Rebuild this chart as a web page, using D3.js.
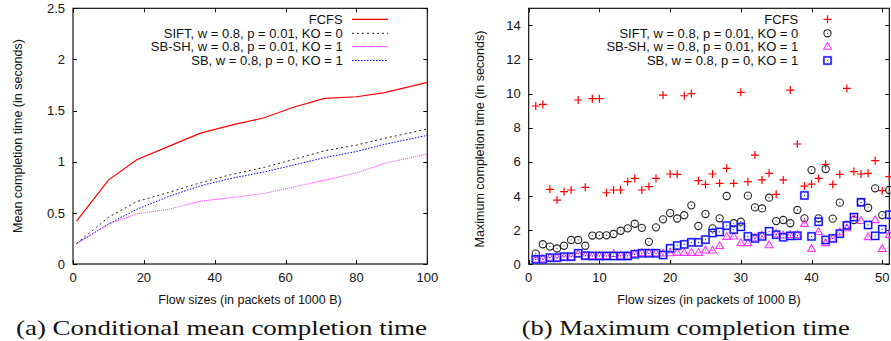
<!DOCTYPE html>
<html><head><meta charset="utf-8">
<script src="https://cdn.jsdelivr.net/npm/d3@7"></script>
<style>body{margin:0;background:#fff}svg{display:block}</style>
</head><body>
<svg id="c" width="891" height="341"></svg>
<script>
// ---------- data ----------
const seriesNames = ["FCFS", "SIFT, w = 0.8, p = 0.01, KO = 0", "SB-SH, w = 0.8, p = 0.01, KO = 1", "SB, w = 0.8, p = 0, KO = 1"];
const meanSizes = [1, 10, 18, 27, 36, 45, 54, 62, 71, 80, 88, 100];
const meanFCFS  = [0.42, 0.82, 1.02, 1.15, 1.28, 1.36, 1.43, 1.53, 1.62, 1.635, 1.675, 1.775];
const meanSIFT  = [0.20, 0.456, 0.61, 0.70, 0.795, 0.877, 0.945, 1.02, 1.107, 1.163, 1.229, 1.32];
const meanSBSH  = [0.20, 0.39, 0.49, 0.535, 0.615, 0.65, 0.69, 0.75, 0.82, 0.89, 0.985, 1.075];
const meanSB    = [0.20, 0.39, 0.535, 0.66, 0.765, 0.84, 0.90, 0.965, 1.04, 1.10, 1.17, 1.258];
const meanXTicks = [0, 20, 40, 60, 80, 100];
const meanYTicks = [0, 0.5, 1, 1.5, 2, 2.5];

const maxSizes = [1,2,3,4,5,6,7,8,9,10,11,12,13,14,15,16,17,18,19,20,21,22,23,24,25,26,27,28,29,30,31,32,33,34,35,36,37,38,39,40,41,42,43,44,45,46,47,48,49,50,51];
const maxFCFS = [9.27,9.36,4.38,3.75,4.24,4.34,9.62,4.5,9.7,9.7,4.18,4.34,4.34,4.83,5.02,4.34,4.54,5.02,9.91,5.28,5.26,9.87,10.0,4.89,4.67,5.28,4.73,5.61,4.73,10.07,4.83,6.39,4.93,5.32,4.09,4.93,10.2,7.04,4.57,4.69,5.02,5.85,4.67,5.26,10.3,5.42,5.28,5.32,6.06,4.3,5.12];
const maxSIFT = [0.61,1.16,1.02,0.91,1.07,1.41,1.41,1.07,1.67,1.68,1.68,1.76,1.95,2.09,2.36,2.12,1.3,2.15,2.62,2.99,2.67,2.86,3.44,2.23,2.93,2.09,2.68,3.99,2.39,2.48,4.01,3.32,3.26,3.89,2.52,2.58,2.39,3.17,2.68,5.51,2.68,5.57,2.66,3.6,2.29,2.58,3.62,3.3,4.44,2.87,4.34];
const maxSBSH = [0.27,0.31,0.37,0.37,0.41,0.41,0.59,0.47,0.47,0.47,0.47,0.59,0.49,0.49,0.59,0.66,0.63,0.63,0.62,0.64,0.66,0.66,0.66,0.66,0.8,0.8,1.06,1.6,1.62,1.23,1.23,1.55,1.68,1.11,1.78,1.68,1.7,1.7,2.36,0.89,1.88,1.23,1.48,1.86,2.1,2.7,2.53,1.58,2.58,0.89,1.7];
const maxSB   = [0.27,0.27,0.37,0.37,0.43,0.43,0.63,0.49,0.47,0.47,0.47,0.47,0.47,0.47,0.57,0.63,0.63,0.63,0.53,0.92,1.08,1.15,1.27,1.27,1.43,1.82,1.88,2.25,2.02,2.18,1.62,1.5,1.62,1.92,1.72,1.57,1.65,1.66,4.02,1.62,2.48,1.41,1.5,1.78,2.26,2.75,3.62,2.29,1.65,2.04,2.89];
const maxXTicks = [0, 10, 20, 30, 40, 50];
const maxYTicks = [0, 2, 4, 6, 8, 10, 12, 14];

const xTitle = "Flow sizes (in packets of 1000 B)";
const yTitleMean = "Mean completion time (in seconds)";
const yTitleMax = "Maximum completion time (in seconds)";
const captionA = "(a) Conditional mean completion time";
const captionB = "(b) Maximum completion time";

// ---------- drawing ----------
const svg = d3.select("#c");
const SANS = "'Liberation Sans', Arial, sans-serif";
const SERIF = "'Liberation Serif', 'DejaVu Serif', serif";
const colRed = "#ff0000", colSift = "#222222", colMag = "#ff33ff", colBlue = "#0000ff";

function frame(x, y, xt, yt, fmtY) {
  const g = svg.append("g");
  const [x0, x1] = x.range(), [y0, y1] = y.range();
  const tl = 4;
  xt.forEach(v => {
    const px = Math.round(x(v)) + 0.5;
    g.append("line").attr("x1", px).attr("x2", px).attr("y1", y0).attr("y2", y0 - tl).attr("stroke", "#000");
    g.append("line").attr("x1", px).attr("x2", px).attr("y1", y1).attr("y2", y1 + tl).attr("stroke", "#000");
    g.append("text").attr("x", x(v)).attr("y", y0 + 17.5).attr("text-anchor", "middle")
      .attr("font-family", SANS).attr("font-size", 13).attr("fill", "#111").text(v);
  });
  yt.forEach(v => {
    const py = Math.round(y(v)) + 0.5;
    g.append("line").attr("x1", x0).attr("x2", x0 + tl).attr("y1", py).attr("y2", py).attr("stroke", "#000");
    g.append("line").attr("x1", x1).attr("x2", x1 - tl).attr("y1", py).attr("y2", py).attr("stroke", "#000");
    g.append("text").attr("x", x0 - 8).attr("y", y(v) + 4.7).attr("text-anchor", "end")
      .attr("font-family", SANS).attr("font-size", 13).attr("fill", "#111").text(fmtY(v));
  });
  g.append("rect").attr("x", x0).attr("y", y1).attr("width", x1 - x0).attr("height", y0 - y1)
    .attr("fill", "none").attr("stroke", "#000").attr("stroke-width", 1.1);
  return g;
}

// ---- chart (a) ----
const xa = d3.scaleLinear().domain([0, 100]).range([73, 427.3]);
const ya = d3.scaleLinear().domain([0, 2.5]).range([264, 8.3]);
frame(xa, ya, meanXTicks, meanYTicks, d3.format("~g"));

const lineA = d3.line().x((d, i) => xa(meanSizes[i])).y(d => ya(d));
const styles = [
  {data: meanFCFS, color: colRed, dash: null, w: 1.2},
  {data: meanSIFT, color: colSift, dash: "2,3", w: 1},
  {data: meanSBSH, color: colMag, dash: "1,1", w: 1},
  {data: meanSB,   color: colBlue, dash: "1.5,1.5", w: 1}
];
svg.append("clipPath").attr("id", "ca").append("rect")
  .attr("x", 73).attr("y", 8.3).attr("width", 354.3).attr("height", 255.7);
styles.slice().reverse().forEach(s => {
  svg.append("path").attr("d", lineA(s.data)).attr("fill", "none").attr("stroke", s.color)
    .attr("stroke-width", s.w).attr("stroke-dasharray", s.dash).attr("clip-path", "url(#ca)");
});
const legY = [19.3, 33.3, 46.7, 60.5];
styles.forEach((s, i) => {
  svg.append("text").attr("x", 342.7).attr("y", legY[i] + 4.7).attr("text-anchor", "end")
    .attr("font-family", SANS).attr("font-size", 13).attr("fill", "#111").text(seriesNames[i]);
  svg.append("line").attr("x1", 352).attr("x2", 388).attr("y1", legY[i]).attr("y2", legY[i])
    .attr("stroke", s.color).attr("stroke-width", s.w).attr("stroke-dasharray", s.dash);
});
svg.append("text").attr("x", 250).attr("y", 303.5).attr("text-anchor", "middle")
  .attr("font-family", SANS).attr("font-size", 12.5).attr("fill", "#111").text(xTitle);
svg.append("text").attr("transform", "translate(22,136) rotate(-90)").attr("text-anchor", "middle")
  .attr("font-family", SANS).attr("font-size", 12.5).attr("fill", "#111").text(yTitleMean);

// ---- chart (b) ----
const xb = d3.scaleLinear().domain([0, 51]).range([528.7, 889.3]);
const yb = d3.scaleLinear().domain([0, 15]).range([264, 8.3]);
frame(xb, yb, maxXTicks, maxYTicks, d3.format("d"));

svg.append("clipPath").attr("id", "cb").append("rect")
  .attr("x", 524).attr("y", 4).attr("width", 370).attr("height", 264);
const gb = svg.append("g").attr("clip-path", "url(#cb)");

function plus(g, cx, cy) {
  g.append("path").attr("d", `M${cx - 4},${cy}H${cx + 4}M${cx},${cy - 4}V${cy + 4}`)
    .attr("stroke", colRed).attr("stroke-width", 1.2).attr("fill", "none");
}
function circ(g, cx, cy) {
  g.append("circle").attr("cx", cx).attr("cy", cy).attr("r", 3.6).attr("fill", "none")
    .attr("stroke", colSift).attr("stroke-width", 1.1);
  g.append("circle").attr("cx", cx).attr("cy", cy).attr("r", 0.6).attr("fill", colSift);
}
function tri(g, cx, cy) {
  g.append("path").attr("d", `M${cx},${cy - 4.2}L${cx + 3.9},${cy + 2.6}L${cx - 3.9},${cy + 2.6}Z`)
    .attr("fill", "none").attr("stroke", colMag).attr("stroke-width", 1.1);
  g.append("circle").attr("cx", cx).attr("cy", cy).attr("r", 0.6).attr("fill", colMag);
}
function sq(g, cx, cy) {
  g.append("rect").attr("x", cx - 3.6).attr("y", cy - 3.6).attr("width", 7.2).attr("height", 7.2)
    .attr("fill", "none").attr("stroke", "#7a7aff").attr("stroke-width", 2.2).attr("opacity", 0.6);
  g.append("rect").attr("x", cx - 3.6).attr("y", cy - 3.6).attr("width", 7.2).attr("height", 7.2)
    .attr("fill", "none").attr("stroke", colBlue).attr("stroke-width", 1.1);
  g.append("circle").attr("cx", cx).attr("cy", cy).attr("r", 0.6).attr("fill", colBlue);
}
const markers = [
  {data: maxFCFS, fn: plus},
  {data: maxSIFT, fn: circ},
  {data: maxSBSH, fn: tri},
  {data: maxSB, fn: sq}
];
markers.forEach(m => {
  m.data.forEach((v, i) => m.fn(gb, xb(maxSizes[i]), yb(v)));
});
markers.forEach((m, i) => {
  svg.append("text").attr("x", 798.3).attr("y", legY[i] + 4.7).attr("text-anchor", "end")
    .attr("font-family", SANS).attr("font-size", 13).attr("fill", "#111").text(seriesNames[i]);
  m.fn(svg, 827.5, legY[i]);
});
svg.append("text").attr("x", 709).attr("y", 303.5).attr("text-anchor", "middle")
  .attr("font-family", SANS).attr("font-size", 12.5).attr("fill", "#111").text(xTitle);
svg.append("text").attr("transform", "translate(484,139) rotate(-90)").attr("text-anchor", "middle")
  .attr("font-family", SANS).attr("font-size", 12.5).attr("fill", "#111").text(yTitleMax);

// captions
svg.append("text").attr("x", 16).attr("y", 334.5).attr("font-family", SERIF).attr("font-size", 22)
  .attr("fill", "#111").attr("textLength", 411).attr("lengthAdjust", "spacingAndGlyphs").text(captionA);
svg.append("text").attr("x", 521.7).attr("y", 334.5).attr("font-family", SERIF).attr("font-size", 22)
  .attr("fill", "#111").attr("textLength", 328).attr("lengthAdjust", "spacingAndGlyphs").text(captionB);
</script>
</body></html>
